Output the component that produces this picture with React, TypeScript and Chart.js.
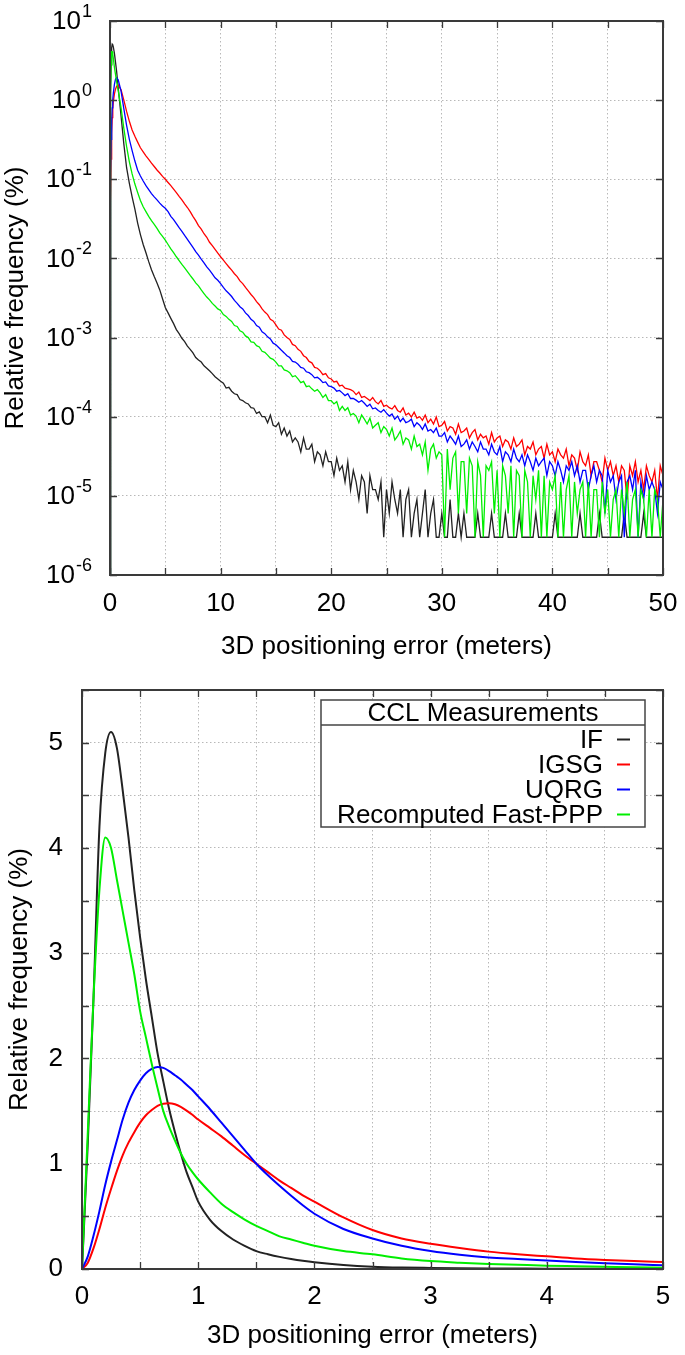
import React, { useEffect, useRef } from "react";
import { Chart, registerables } from "chart.js";

Chart.register(...registerables);

const FONT = "'Liberation Sans', Arial, Helvetica, sans-serif";

const SERIES_LABELS = ["IF", "IGSG", "UQRG", "Recomputed Fast-PPP"];
const SERIES_COLORS = ["#222222", "#ff0000", "#0000ff", "#00ee00"];
const LEGEND_TITLE = "CCL Measurements";
const X_TITLE = "3D positioning error (meters)";
const Y_TITLE = "Relative frequency (%)";

// ---------- top panel (log scale) ----------
const TOP_Y_TICKS = [10, 1, 0.1, 0.01, 1e-3, 1e-4, 1e-5, 1e-6];
const TOP_X_LABEL_STEP = 10;

const TOP_X = [
  0, 0.05, 0.1, 0.15, 0.2, 0.25, 0.3, 0.4, 0.5, 0.6, 0.75,
  1, 1.25, 1.5, 1.75, 2, 2.25, 2.5, 2.75, 3, 3.25, 3.5, 3.75, 4, 4.25, 4.5, 4.75,
  5, 5.25, 5.5, 5.75, 6, 6.25, 6.5, 6.75,
  7, 7.25, 7.5, 7.75, 8, 8.25, 8.5, 8.75,
  9, 9.25, 9.5, 9.75, 10, 10.25, 10.5, 10.75,
  11, 11.25, 11.5, 11.75, 12, 12.25, 12.5, 12.75,
  13, 13.25, 13.5, 13.75, 14, 14.25, 14.5, 14.75,
  15, 15.25, 15.5, 15.75, 16, 16.25, 16.5, 16.75,
  17, 17.25, 17.5, 17.75, 18, 18.25, 18.5, 18.75,
  19, 19.25, 19.5, 19.75, 20, 20.25, 20.5, 20.75,
  21, 21.25, 21.5, 21.75, 22, 22.25, 22.5, 22.75,
  23, 23.25, 23.5, 23.75, 24, 24.25, 24.5, 24.75,
  25, 25.25, 25.5, 25.75, 26, 26.25, 26.5, 26.75,
  27, 27.25, 27.5, 27.75, 28, 28.25, 28.5, 28.75,
  29, 29.25, 29.5, 29.75, 30, 30.25, 30.5, 30.75,
  31, 31.25, 31.5, 31.75, 32, 32.25, 32.5, 32.75,
  33, 33.25, 33.5, 33.75, 34, 34.25, 34.5, 34.75,
  35, 35.25, 35.5, 35.75, 36, 36.25, 36.5, 36.75,
  37, 37.25, 37.5, 37.75, 38, 38.25, 38.5, 38.75,
  39, 39.25, 39.5, 39.75, 40, 40.25, 40.5, 40.75,
  41, 41.25, 41.5, 41.75, 42, 42.25, 42.5, 42.75,
  43, 43.25, 43.5, 43.75, 44, 44.25, 44.5, 44.75,
  45, 45.25, 45.5, 45.75, 46, 46.25, 46.5, 46.75,
  47, 47.25, 47.5, 47.75, 48, 48.25, 48.5, 48.75,
  49, 49.25, 49.5, 49.75, 50,
];

const TOP_IF = [
  1e-6, 1.2, 2.8, 4.6, 5.1, 5.0, 4.7, 3.9, 3.0, 2.3, 1.4,
  0.63, 0.28, 0.14, 0.089, 0.06, 0.042, 0.028, 0.02, 0.015, 0.0118, 0.0091, 0.0072, 0.0059, 0.0049, 0.004, 0.0031,
  2.4e-3, 2.05e-3, 1.75e-3, 1.5e-3, 1.26e-3, 1.12e-3, 9.8e-4, 8.9e-4,
  7.8e-4, 7.1e-4, 6.4e-4, 5.6e-4, 5.2e-4, 4.9e-4, 4.4e-4, 4.1e-4,
  3.8e-4, 3.5e-4, 3.2e-4, 3.0e-4, 2.8e-4, 2.65e-4, 2.3e-4, 2.35e-4,
  2.1e-4, 1.95e-4, 1.9e-4, 1.65e-4, 1.6e-4, 1.5e-4, 1.45e-4, 1.3e-4,
  1.28e-4, 1.1e-4, 1.15e-4, 1.0e-4, 1.0e-4, 8.4e-5, 1.05e-4, 7.8e-5,
  7.5e-5, 8.4e-5, 6.0e-5, 7.2e-5, 5.7e-5, 6.6e-5, 4.8e-5, 5.4e-5,
  4.8e-5, 3.6e-5, 5.4e-5, 3.9e-5, 3.9e-5, 4.5e-5, 2.7e-5, 3.6e-5,
  3.3e-5, 2.4e-5, 3.6e-5, 2.7e-5, 2.7e-5, 1.8e-5, 3.0e-5, 2.1e-5,
  2.4e-5, 1.5e-5, 2.7e-5, 1.2e-5, 2.1e-5, 1.5e-5, 9e-6, 1.8e-5,
  1.5e-5, 6e-6, 1.8e-5, 1.2e-5, 1.2e-5, 9e-6, 1.5e-5, 3e-6,
  1.2e-5, 6e-6, 1.5e-5, 9e-6, 6e-6, 1.2e-5, 3e-6, 9e-6,
  1.2e-5, 3e-6, 6e-6, 9e-6, 3e-6, 6e-6, 1.2e-5, 3e-6,
  6e-6, 9e-6, 3e-6, 3e-6, 6e-6, 3e-6, 3e-6, 9e-6,
  3e-6, 3e-6, 6e-6, 3e-6, 6e-6, 3e-6, 3e-6, 3e-6,
  3e-6, 6e-6, 3e-6, 3e-6, 3e-6, 3e-6, 6e-6, 3e-6,
  3e-6, 3e-6, 3e-6, 6e-6, 3e-6, 3e-6, 3e-6, 3e-6,
  6e-6, 3e-6, 3e-6, 3e-6, 3e-6, 3e-6, 6e-6, 3e-6,
  3e-6, 3e-6, 3e-6, 3e-6, 3e-6, 6e-6, 3e-6, 3e-6,
  3e-6, 3e-6, 3e-6, 3e-6, 3e-6, 3e-6, 6e-6, 3e-6,
  3e-6, 3e-6, 3e-6, 3e-6, 3e-6, 6e-6, 3e-6, 3e-6,
  3e-6, 3e-6, 3e-6, 3e-6, 3e-6, 3e-6, 6e-6, 3e-6,
  3e-6, 3e-6, 3e-6, 3e-6, 3e-6, 6e-6, 3e-6, 3e-6,
  3e-6, 3e-6, 3e-6, 3e-6, 3e-6,
];

const TOP_IGSG = [
  1e-6, 0.05, 0.18, 0.38, 0.6, 0.78, 0.95, 1.2, 1.38, 1.5, 1.55,
  1.35, 1.0, 0.72, 0.54, 0.42, 0.35, 0.295, 0.25, 0.222, 0.198, 0.178, 0.16, 0.145, 0.131, 0.12, 0.109,
  1.0e-1, 9.1e-2, 8.3e-2, 7.5e-2, 6.8e-2, 6.1e-2, 5.5e-2, 4.9e-2,
  4.4e-2, 3.9e-2, 3.4e-2, 3.0e-2, 2.6e-2, 2.35e-2, 2.05e-2, 1.85e-2,
  1.6e-2, 1.45e-2, 1.3e-2, 1.17e-2, 1.05e-2, 9.5e-3, 8.6e-3, 7.8e-3,
  7.1e-3, 6.4e-3, 5.9e-3, 5.2e-3, 4.8e-3, 4.3e-3, 3.9e-3, 3.5e-3,
  3.2e-3, 2.85e-3, 2.6e-3, 2.3e-3, 2.1e-3, 1.95e-3, 1.7e-3, 1.62e-3,
  1.45e-3, 1.28e-3, 1.24e-3, 1.08e-3, 1.0e-3, 9.5e-4, 8.2e-4, 7.9e-4,
  7.1e-4, 6.7e-4, 5.9e-4, 5.6e-4, 5.0e-4, 4.8e-4, 4.2e-4, 4.1e-4,
  3.8e-4, 3.4e-4, 3.5e-4, 3.1e-4, 3.0e-4, 2.75e-4, 2.8e-4, 2.45e-4,
  2.5e-4, 2.3e-4, 2.25e-4, 2.2e-4, 2.1e-4, 1.9e-4, 2.05e-4, 1.75e-4,
  1.8e-4, 1.7e-4, 1.6e-4, 1.75e-4, 1.55e-4, 1.45e-4, 1.6e-4, 1.35e-4,
  1.4e-4, 1.3e-4, 1.25e-4, 1.38e-4, 1.2e-4, 1.14e-4, 1.29e-4, 1.05e-4,
  1.11e-4, 9.9e-5, 1.14e-4, 9.6e-5, 1.0e-4, 9.0e-5, 1.05e-4, 8.4e-5,
  9.3e-5, 8.1e-5, 9.9e-5, 7.5e-5, 7.8e-5, 8.7e-5, 6.6e-5, 7.5e-5,
  7.2e-5, 6.0e-5, 8.1e-5, 6.3e-5, 6.6e-5, 7.2e-5, 5.4e-5, 6.3e-5,
  6.9e-5, 5.1e-5, 6.0e-5, 5.4e-5, 5.7e-5, 4.5e-5, 6.3e-5, 4.8e-5,
  5.4e-5, 5.7e-5, 4.2e-5, 5.1e-5, 4.8e-5, 3.9e-5, 5.4e-5, 4.2e-5,
  4.5e-5, 5.1e-5, 3.3e-5, 4.2e-5, 3.9e-5, 4.8e-5, 3.3e-5, 3.9e-5,
  4.2e-5, 3.0e-5, 4.5e-5, 3.3e-5, 3.6e-5, 2.7e-5, 3.9e-5, 3.3e-5,
  3.0e-5, 3.9e-5, 2.4e-5, 3.3e-5, 3.0e-5, 2.1e-5, 3.6e-5, 2.7e-5,
  2.4e-5, 3.3e-5, 1.8e-5, 2.7e-5, 2.7e-5, 2.1e-5, 1.5e-5, 3.0e-5,
  2.1e-5, 2.7e-5, 1.8e-5, 2.4e-5, 1.5e-5, 2.4e-5, 2.1e-5, 9e-6,
  2.4e-5, 1.8e-5, 2.7e-5, 1.5e-5, 2.1e-5, 1.2e-5, 2.4e-5, 1.8e-5,
  1.5e-5, 2.1e-5, 9e-6, 2.4e-5, 1.8e-5,
];

const TOP_UQRG = [
  1e-6, 0.12, 0.32, 0.55, 0.8, 1.02, 1.22, 1.58, 1.85, 1.93, 1.8,
  1.3, 0.78, 0.48, 0.32, 0.23, 0.17, 0.13, 0.11, 0.095, 0.083, 0.074, 0.066, 0.06, 0.055, 0.05, 0.046,
  4.3e-2, 3.9e-2, 3.4e-2, 3.1e-2, 2.75e-2, 2.45e-2, 2.2e-2, 1.95e-2,
  1.74e-2, 1.55e-2, 1.38e-2, 1.22e-2, 1.1e-2, 9.8e-3, 8.8e-3, 7.8e-3,
  7.1e-3, 6.4e-3, 5.7e-3, 5.3e-3, 4.8e-3, 4.3e-3, 3.9e-3, 3.6e-3,
  3.3e-3, 2.95e-3, 2.7e-3, 2.45e-3, 2.3e-3, 2.05e-3, 1.9e-3, 1.7e-3,
  1.6e-3, 1.42e-3, 1.35e-3, 1.18e-3, 1.12e-3, 1.02e-3, 9.6e-4, 8.5e-4,
  8.1e-4, 7.5e-4, 6.9e-4, 6.4e-4, 5.9e-4, 5.6e-4, 5.0e-4, 4.9e-4,
  4.6e-4, 4.2e-4, 4.1e-4, 3.7e-4, 3.6e-4, 3.4e-4, 3.1e-4, 3.15e-4,
  2.95e-4, 2.7e-4, 2.75e-4, 2.45e-4, 2.4e-4, 2.3e-4, 2.1e-4, 2.15e-4,
  2.0e-4, 1.85e-4, 1.95e-4, 1.7e-4, 1.7e-4, 1.62e-4, 1.52e-4, 1.6e-4,
  1.48e-4, 1.35e-4, 1.44e-4, 1.26e-4, 1.29e-4, 1.2e-4, 1.14e-4, 1.23e-4,
  1.11e-4, 1.02e-4, 1.08e-4, 9.3e-5, 1.02e-4, 8.7e-5, 9.6e-5, 8.4e-5,
  8.7e-5, 9.3e-5, 7.5e-5, 8.4e-5, 7.8e-5, 6.9e-5, 8.1e-5, 6.6e-5,
  6.9e-5, 6.3e-5, 7.2e-5, 5.7e-5, 5.7e-5, 6.3e-5, 4.8e-5, 5.7e-5,
  5.1e-5, 4.5e-5, 5.7e-5, 4.2e-5, 4.5e-5, 5.1e-5, 3.9e-5, 4.8e-5,
  4.2e-5, 3.6e-5, 4.8e-5, 3.9e-5, 3.9e-5, 3.3e-5, 4.5e-5, 3.6e-5,
  3.3e-5, 4.2e-5, 2.7e-5, 3.6e-5, 3.3e-5, 2.7e-5, 3.9e-5, 3.0e-5,
  2.7e-5, 3.3e-5, 2.4e-5, 3.3e-5, 2.7e-5, 2.1e-5, 3.0e-5, 2.4e-5,
  2.7e-5, 3.0e-5, 1.8e-5, 2.7e-5, 2.4e-5, 1.8e-5, 2.7e-5, 2.1e-5,
  1.5e-5, 2.4e-5, 2.1e-5, 2.7e-5, 1.8e-5, 2.4e-5, 1.5e-5, 2.1e-5,
  2.1e-5, 1.2e-5, 1.8e-5, 2.4e-5, 1.5e-5, 2.1e-5, 1.8e-5, 6e-6,
  2.1e-5, 1.5e-5, 1.8e-5, 9e-6, 1.5e-5, 1.8e-5, 3e-6, 1.5e-5,
  1.8e-5, 1.2e-5, 2.1e-5, 3e-6, 1.5e-5, 9e-6, 1.8e-5, 1.2e-5,
  1.5e-5, 1.2e-5, 6e-6, 1.5e-5, 1.2e-5,
];

const TOP_FPPP = [
  1e-6, 1.3, 2.8, 4.1, 4.1, 3.8, 3.4, 2.6, 2.1, 1.7, 1.3,
  0.8, 0.44, 0.26, 0.166, 0.117, 0.087, 0.068, 0.054, 0.045, 0.039, 0.034, 0.03, 0.027, 0.024, 0.021, 0.019,
  1.7e-2, 1.5e-2, 1.32e-2, 1.18e-2, 1.05e-2, 9.4e-3, 8.4e-3, 7.6e-3,
  6.8e-3, 6.1e-3, 5.5e-3, 4.9e-3, 4.5e-3, 4.0e-3, 3.6e-3, 3.25e-3,
  3.0e-3, 2.7e-3, 2.5e-3, 2.3e-3, 2.2e-3, 1.95e-3, 1.85e-3, 1.7e-3,
  1.6e-3, 1.42e-3, 1.38e-3, 1.22e-3, 1.17e-3, 1.05e-3, 1.0e-3, 8.8e-4,
  8.7e-4, 7.9e-4, 7.6e-4, 6.7e-4, 6.5e-4, 6.0e-4, 5.5e-4, 5.3e-4,
  4.9e-4, 4.4e-4, 4.4e-4, 3.9e-4, 3.8e-4, 3.6e-4, 3.2e-4, 3.3e-4,
  3.0e-4, 2.7e-4, 2.8e-4, 2.4e-4, 2.45e-4, 2.25e-4, 2.1e-4, 2.2e-4,
  2.0e-4, 1.75e-4, 1.9e-4, 1.6e-4, 1.6e-4, 1.45e-4, 1.55e-4, 1.2e-4,
  1.35e-4, 1.2e-4, 1.3e-4, 1.05e-4, 1.1e-4, 1.02e-4, 8.4e-5, 1.05e-4,
  9.3e-5, 8.1e-5, 9.6e-5, 7.2e-5, 7.8e-5, 8.4e-5, 6.3e-5, 7.5e-5,
  6.9e-5, 5.7e-5, 7.2e-5, 5.1e-5, 5.7e-5, 6.6e-5, 4.5e-5, 5.4e-5,
  5.1e-5, 3.9e-5, 5.7e-5, 4.2e-5, 4.5e-5, 3.3e-5, 4.8e-5, 2.1e-5,
  3.9e-5, 4.5e-5, 3.0e-5, 3.6e-5, 3.3e-5, 3e-6, 3.9e-5, 1.2e-5,
  3.0e-5, 3.6e-5, 6e-6, 2.7e-5, 2.7e-5, 6e-6, 3.0e-5, 2.4e-5,
  3e-6, 2.7e-5, 1.8e-5, 3e-6, 2.4e-5, 2.1e-5, 2.7e-5, 6e-6,
  2.1e-5, 3e-6, 2.4e-5, 1.8e-5, 6e-6, 2.4e-5, 3e-6, 2.1e-5,
  1.8e-5, 3e-6, 2.1e-5, 1.5e-5, 3e-6, 1.8e-5, 9e-6, 2.1e-5,
  3e-6, 1.8e-5, 3e-6, 1.5e-5, 1.2e-5, 1.8e-5, 3e-6, 1.5e-5,
  3e-6, 1.2e-5, 1.8e-5, 3e-6, 1.5e-5, 6e-6, 1.2e-5, 1.5e-5,
  3e-6, 1.5e-5, 3e-6, 1.2e-5, 1.2e-5, 3e-6, 1.5e-5, 6e-6,
  1.2e-5, 3e-6, 9e-6, 1.2e-5, 3e-6, 1.2e-5, 6e-6, 1.5e-5,
  3e-6, 9e-6, 1.2e-5, 3e-6, 1.2e-5, 9e-6, 3e-6, 1.2e-5,
  3e-6, 1.2e-5, 9e-6, 3e-6, 9e-6,
];

// ---------- bottom panel (linear scale) ----------
const BOTTOM_X = [
  0, 0.05, 0.1, 0.15, 0.2, 0.25, 0.3, 0.35, 0.4, 0.45, 0.5, 0.55, 0.6, 0.65, 0.7, 0.75, 0.8, 0.85, 0.9, 0.95, 1,
  1.1, 1.2, 1.3, 1.4, 1.5, 1.6, 1.7, 1.8, 1.9, 2,
  2.25, 2.5, 2.75, 3, 3.25, 3.5, 3.75, 4, 4.25, 4.5, 4.75, 5,
];
const BOTTOM_IF = [
  0, 1.2, 2.6, 4.2, 4.9, 5.1, 4.95, 4.55, 4.1, 3.6, 3.15, 2.75, 2.4, 2.05, 1.78, 1.52, 1.3, 1.1, 0.92, 0.78, 0.64,
  0.47, 0.36, 0.28, 0.22, 0.17, 0.14, 0.115, 0.095, 0.078, 0.064,
  0.038, 0.022, 0.014, 0.01, 0.007, 0.005, 0.004, 0.003, 0.003, 0.002, 0.002, 0.002,
];
const BOTTOM_IGSG = [
  0, 0.06, 0.2, 0.38, 0.58, 0.76, 0.93, 1.08, 1.2, 1.3, 1.39, 1.46, 1.51, 1.55, 1.57, 1.575, 1.565, 1.54, 1.505, 1.465, 1.42,
  1.34, 1.26, 1.17, 1.08, 1.0, 0.92, 0.84, 0.77, 0.7, 0.64,
  0.49, 0.37, 0.29, 0.24, 0.2, 0.165, 0.14, 0.12, 0.1, 0.086, 0.075, 0.067,
];
const BOTTOM_UQRG = [
  0, 0.12, 0.32, 0.55, 0.8, 1.02, 1.22, 1.42, 1.58, 1.7, 1.79, 1.86, 1.9, 1.92, 1.91, 1.88, 1.84, 1.8, 1.75, 1.7, 1.64,
  1.52, 1.39, 1.26, 1.13, 1.0, 0.89, 0.79, 0.695, 0.605, 0.525,
  0.38, 0.29, 0.22, 0.17, 0.135, 0.11, 0.095, 0.08, 0.066, 0.054, 0.044, 0.035,
];
const BOTTOM_FPPP = [
  0, 1.3, 2.6, 3.6, 4.1, 4.0, 3.7, 3.4, 3.1, 2.8, 2.45, 2.2, 1.95, 1.72, 1.5, 1.35, 1.22, 1.1, 1.0, 0.92, 0.85,
  0.73, 0.62, 0.54, 0.47, 0.41, 0.36, 0.31, 0.28, 0.25, 0.22,
  0.17, 0.14, 0.1, 0.075, 0.06, 0.048, 0.04, 0.032, 0.027, 0.022, 0.017, 0.013,
];

const TOP_SERIES = [TOP_IF, TOP_IGSG, TOP_UQRG, TOP_FPPP];
const BOTTOM_SERIES = [BOTTOM_IF, BOTTOM_IGSG, BOTTOM_UQRG, BOTTOM_FPPP];

const GRID_COLOR = "#b8b8b8";
const FRAME_COLOR = "#3a3a3a";

function zeroPad(s: any) {
  s.paddingLeft = 0;
  s.paddingRight = 0;
  s.paddingTop = 0;
  s.paddingBottom = 0;
}

function framePlugin(tickLen: number) {
  return {
    id: "frameTicks",
    afterDatasetsDraw(chart: any) {
      const { ctx, chartArea: a, scales } = chart;
      ctx.save();
      ctx.strokeStyle = FRAME_COLOR;
      ctx.lineWidth = 1.3;
      ctx.beginPath();
      for (const t of scales.x.ticks) {
        const px = Math.round(scales.x.getPixelForValue(t.value)) + 0.5;
        ctx.moveTo(px, a.bottom);
        ctx.lineTo(px, a.bottom - tickLen);
        ctx.moveTo(px, a.top);
        ctx.lineTo(px, a.top + tickLen);
      }
      for (const t of scales.y.ticks) {
        const py = Math.round(scales.y.getPixelForValue(t.value)) + 0.5;
        ctx.moveTo(a.left, py);
        ctx.lineTo(a.left + tickLen, py);
        ctx.moveTo(a.right, py);
        ctx.lineTo(a.right - tickLen, py);
      }
      ctx.stroke();
      ctx.lineWidth = 2;
      ctx.strokeRect(a.left, a.top, a.right - a.left, a.bottom - a.top);
      ctx.restore();
    },
  };
}

const logLabelPlugin = {
  id: "logLabels",
  afterDraw(chart: any) {
    const { ctx, scales } = chart;
    const s = scales.y;
    const rightEdge = 92;
    ctx.save();
    ctx.fillStyle = "#000";
    ctx.textBaseline = "middle";
    for (const v of TOP_Y_TICKS) {
      const y = s.getPixelForValue(v);
      const expStr = String(Math.round(Math.log10(v)));
      ctx.font = `18px ${FONT}`;
      const we = ctx.measureText(expStr).width;
      ctx.textAlign = "left";
      ctx.fillText(expStr, rightEdge - we, y - 9);
      ctx.font = `26px ${FONT}`;
      ctx.textAlign = "right";
      ctx.fillText("10", rightEdge - we - 1, y + 1);
    }
    ctx.restore();
  },
};

const legendPlugin = {
  id: "cclLegend",
  afterDraw(chart: any) {
    const { ctx, chartArea: a } = chart;
    const right = a.right - 18;
    const left = right - 324;
    const top = a.top + 10;
    const titleH = 25;
    const rowH = 25;
    const ds = chart.data.datasets;
    const bottom = top + titleH + 2 + ds.length * rowH;
    ctx.save();
    ctx.fillStyle = "#fff";
    ctx.fillRect(left, top, right - left, bottom - top);
    ctx.strokeStyle = "#444";
    ctx.lineWidth = 1.5;
    ctx.strokeRect(left, top, right - left, bottom - top);
    ctx.beginPath();
    ctx.moveTo(left, top + titleH);
    ctx.lineTo(right, top + titleH);
    ctx.stroke();
    ctx.fillStyle = "#000";
    ctx.font = `26px ${FONT}`;
    ctx.textBaseline = "middle";
    ctx.textAlign = "center";
    ctx.fillText(LEGEND_TITLE, (left + right) / 2, top + 14);
    ctx.textAlign = "right";
    ds.forEach((d: any, i: number) => {
      const y = top + titleH + 2 + rowH * i + rowH / 2;
      ctx.fillStyle = "#000";
      ctx.fillText(d.label, right - 42, y + 1);
      ctx.strokeStyle = d.borderColor;
      ctx.lineWidth = 2;
      ctx.beginPath();
      ctx.moveTo(right - 28, y);
      ctx.lineTo(right - 15, y);
      ctx.stroke();
    });
    ctx.restore();
  },
};

const tickFont = { family: FONT, size: 26 };
const titleFont = { family: FONT, size: 26, lineHeight: 1.2 };

function TopChart() {
  const ref = useRef<HTMLCanvasElement | null>(null);
  useEffect(() => {
    if (!ref.current) return;
    const datasets = TOP_SERIES.map((arr, i) => ({
      label: SERIES_LABELS[i],
      data: TOP_X.map((x, j) => ({ x, y: arr[j] })),
      borderColor: SERIES_COLORS[i],
      backgroundColor: SERIES_COLORS[i],
      borderWidth: 1.3,
      pointRadius: 0,
      tension: 0,
      fill: false,
      order: 4 - i,
    }));
    const chart = new Chart(ref.current, {
      type: "line",
      data: { datasets },
      options: {
        responsive: false,
        animation: false,
        devicePixelRatio: 1,
        events: [],
        layout: { padding: { left: 0, right: 22, top: 21, bottom: 0 } },
        plugins: { legend: { display: false }, tooltip: { enabled: false }, title: { display: false } },
        scales: {
          x: {
            type: "linear",
            min: 0,
            max: 50,
            afterFit: (s: any) => { s.height = 105; zeroPad(s); },
            ticks: {
              stepSize: 5,
              autoSkip: false,
              maxRotation: 0,
              padding: 13,
              color: "#000",
              font: tickFont,
              callback: (v: any) => (Number(v) % TOP_X_LABEL_STEP === 0 ? String(v) : ""),
            },
            grid: { color: GRID_COLOR, lineWidth: 1, drawTicks: false },
            border: { display: false, dash: [1.5, 2.5] },
            title: { display: true, text: X_TITLE, color: "#000", font: titleFont, padding: { top: 0, bottom: 18 } },
          },
          y: {
            type: "logarithmic",
            min: 1e-6,
            max: 10,
            afterFit: (s: any) => { s.width = 110; zeroPad(s); },
            afterBuildTicks: (s: any) => { s.ticks = TOP_Y_TICKS.map((v) => ({ value: v })); },
            ticks: { display: false },
            grid: { color: GRID_COLOR, lineWidth: 1, drawTicks: false },
            border: { display: false, dash: [1.5, 2.5] },
            title: { display: true, text: Y_TITLE, color: "#000", font: titleFont, padding: { top: 0, bottom: 0 } },
          },
        },
      } as any,
      plugins: [framePlugin(7), logLabelPlugin],
    });
    return () => chart.destroy();
  }, []);
  return (
    <canvas
      ref={ref}
      width={685}
      height={680}
      style={{ position: "absolute", left: 0, top: 0, width: 685, height: 680 }}
    />
  );
}

function BottomChart() {
  const ref = useRef<HTMLCanvasElement | null>(null);
  useEffect(() => {
    if (!ref.current) return;
    const datasets = BOTTOM_SERIES.map((arr, i) => ({
      label: SERIES_LABELS[i],
      data: BOTTOM_X.map((x, j) => ({ x, y: arr[j] })),
      borderColor: SERIES_COLORS[i],
      backgroundColor: SERIES_COLORS[i],
      borderWidth: 2,
      pointRadius: 0,
      cubicInterpolationMode: "monotone",
      fill: false,
      order: 4 - i,
    }));
    const chart = new Chart(ref.current, {
      type: "line",
      data: { datasets },
      options: {
        responsive: false,
        animation: false,
        devicePixelRatio: 1,
        events: [],
        layout: { padding: { left: 0, right: 22, top: 18, bottom: 0 } },
        plugins: { legend: { display: false }, tooltip: { enabled: false }, title: { display: false } },
        scales: {
          x: {
            type: "linear",
            min: 0,
            max: 5,
            afterFit: (s: any) => { s.height = 86; zeroPad(s); },
            ticks: {
              stepSize: 0.5,
              autoSkip: false,
              maxRotation: 0,
              padding: 12,
              color: "#000",
              font: tickFont,
              callback: (v: any) => (Number.isInteger(Number(v)) ? String(v) : ""),
            },
            grid: { color: GRID_COLOR, lineWidth: 1, drawTicks: false },
            border: { display: false, dash: [1.5, 2.5] },
            title: { display: true, text: X_TITLE, color: "#000", font: titleFont, padding: { top: 0, bottom: 4 } },
          },
          y: {
            type: "linear",
            min: 0,
            max: 5.5,
            afterFit: (s: any) => { s.width = 82; zeroPad(s); },
            ticks: {
              stepSize: 0.5,
              autoSkip: false,
              padding: 19,
              color: "#000",
              font: tickFont,
              callback: (v: any) => (Number.isInteger(Number(v)) ? String(v) : ""),
            },
            grid: { color: GRID_COLOR, lineWidth: 1, drawTicks: false },
            border: { display: false, dash: [1.5, 2.5] },
            title: { display: true, text: Y_TITLE, color: "#000", font: titleFont, padding: { top: 4, bottom: 0 } },
          },
        },
      } as any,
      plugins: [framePlugin(7), legendPlugin],
    });
    return () => chart.destroy();
  }, []);
  return (
    <canvas
      ref={ref}
      width={685}
      height={683}
      style={{ position: "absolute", left: 0, top: 672, width: 685, height: 683 }}
    />
  );
}

export default function App() {
  return (
    <div style={{ position: "absolute", left: 0, top: 0, width: 685, height: 1355, background: "#fff" }}>
      <TopChart />
      <BottomChart />
    </div>
  );
}
